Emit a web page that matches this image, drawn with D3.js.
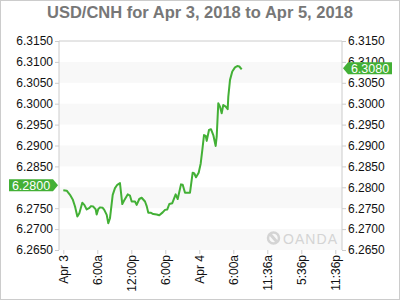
<!DOCTYPE html>
<html>
<head>
<meta charset="utf-8">
<script src="https://cdn.jsdelivr.net/npm/d3@7"></script>
<style>
  body { margin: 0; background: #fff; }
  svg { display: block; font-family: "Liberation Sans", Arial, sans-serif; }
</style>
</head>
<body>
<div id="vis"></div>
<script>
// Chart size
var width = 400;
var height = 300;

// hours since Apr 3 00:00 and USD/CNH quotes
var hours = [0, 0.6, 1.18, 1.66, 2.07, 2.48, 2.83, 3.35, 3.71, 4.13, 4.54, 4.89, 5.29, 5.72, 5.89,
    6.18, 6.48, 6.95, 7.23, 7.66, 7.94, 8.24, 8.72, 9.12, 9.53, 10.0, 10.41, 10.71, 11.36, 11.77,
    12.07, 12.65, 12.95, 13.41, 13.83, 14.42, 14.72, 15.0, 15.48, 15.88, 16.48, 16.94, 17.54, 17.95,
    18.35, 18.71, 19.23, 19.83, 20.19, 20.77, 21.07, 21.48, 21.95, 22.36, 22.83, 23.12, 23.42, 23.89,
    24.25, 24.53, 24.83, 25.13, 25.31, 25.71, 26.06, 26.47, 26.89, 27.07, 27.35, 27.65, 27.95, 28.23,
    28.66, 29.01, 29.12, 29.42, 29.82, 30.3, 30.7, 31.06, 31.48];
var quotes = [6.2793, 6.2792, 6.2782, 6.2771, 6.2754, 6.2730, 6.2738, 6.2763, 6.2758, 6.2747, 6.2750,
    6.2755, 6.2754, 6.2747, 6.2735, 6.2748, 6.2752, 6.2751, 6.2746, 6.2734, 6.2714, 6.2726, 6.2782,
    6.2798, 6.2806, 6.2810, 6.2760, 6.2768, 6.2783, 6.2780, 6.2766, 6.2766, 6.2758, 6.2772, 6.2775,
    6.2766, 6.2755, 6.2739, 6.2739, 6.2736, 6.2735, 6.2733, 6.2740, 6.2746, 6.2747, 6.2760, 6.2762,
    6.2783, 6.2772, 6.2807, 6.2806, 6.2787, 6.2787, 6.2787, 6.2835, 6.2833, 6.2824, 6.2835, 6.2857,
    6.2889, 6.2925, 6.2923, 6.2911, 6.2937, 6.2939, 6.2925, 6.2899, 6.2921, 6.3001, 6.2993, 6.2977,
    6.2997, 6.2993, 6.2987, 6.3017, 6.3057, 6.3077, 6.3087, 6.3090, 6.3089, 6.3082];

// x-axis ticks (hours) and their labels
var xTickHours = [0, 6, 12, 18, 24, 30, 36, 42, 48];
var xTickLabels = ['Apr 3', '6:00a', '12:00p', '6:00p', 'Apr 4', '6:00a', '11:36a', '5:36p', '11:36p'];

// y-axis ticks
var yTicks = [6.2650, 6.2700, 6.2750, 6.2800, 6.2850, 6.2900, 6.2950, 6.3000, 6.3050, 6.3100, 6.3150];

// price markers
var openLabel = 6.2800;
var lastLabel = 6.3080;

var title = 'USD/CNH for Apr 3, 2018 to Apr 5, 2018';
var lineColor = '#43b036';
var plot = {left: 59, right: 342, top: 41, bottom: 250};
var fmt = d3.format('.4f');

var data = hours.map(function (h, i) {
    return {h: h, v: quotes[i]};
});

var x = d3.scaleLinear()
    .domain([0, 48])
    .range([63.3, 335.3]);

var y = d3.scaleLinear()
    .domain([6.2650, 6.3150])
    .range([plot.bottom, plot.top]);

var svg = d3.select('#vis')
    .append('svg')
    .attr('width', width)
    .attr('height', height);

// outer frame
svg.append('rect')
    .attr('x', 0.5).attr('y', 0.5)
    .attr('width', width - 1).attr('height', height - 1)
    .attr('fill', '#fff')
    .attr('stroke', '#ccc');

// title
svg.append('text')
    .attr('x', width / 2)
    .attr('y', 18)
    .attr('text-anchor', 'middle')
    .attr('font-size', 16.5)
    .attr('font-weight', 'bold')
    .attr('fill', '#777')
    .text(title);

// alternating bands (every other tick interval)
var bands = [];
for (var i = 0; i < yTicks.length - 1; i += 2) {
    bands.push([yTicks[i], yTicks[i + 1]]);
}
svg.selectAll('.band')
    .data(bands)
    .enter().append('rect')
    .attr('class', 'band')
    .attr('x', plot.left)
    .attr('width', plot.right - plot.left)
    .attr('y', function (d) { return y(d[1]); })
    .attr('height', function (d) { return y(d[0]) - y(d[1]); })
    .attr('fill', '#f8f8f8');

// watermark
var wm = svg.append('g').attr('transform', 'translate(267,238)');
wm.append('circle').attr('cx', 6.5).attr('cy', 0).attr('r', 5.5).attr('fill', 'none')
    .attr('stroke', '#d4d4d4').attr('stroke-width', 2.5);
wm.append('path').attr('d', 'M3,-4 L10,4').attr('stroke', '#d4d4d4').attr('stroke-width', 3);
wm.append('text').attr('x', 16).attr('y', 5.5).attr('font-size', 14)
    .attr('textLength', 54).attr('fill', '#d4d4d4').text('OANDA');

// frame of plot
svg.append('path')
    .attr('d', 'M' + plot.left + ',' + plot.bottom + 'V' + plot.top + 'H' + plot.right + 'V' + plot.bottom)
    .attr('fill', 'none')
    .attr('stroke', '#ccc');

// y axes (left label under the open marker is hidden, as in the reference)
svg.append('g')
    .attr('transform', 'translate(' + plot.left + ',0)')
    .call(d3.axisLeft(y).tickValues(yTicks.filter(function (t) { return t !== openLabel; }))
        .tickFormat(fmt).tickSize(4).tickPadding(2));
svg.append('g')
    .attr('transform', 'translate(' + plot.right + ',0)')
    .call(d3.axisRight(y).tickValues(yTicks).tickFormat(fmt).tickSize(4).tickPadding(2));

// x axis
var xAxis = svg.append('g')
    .attr('transform', 'translate(0,' + plot.bottom + ')')
    .call(d3.axisBottom(x).tickValues(xTickHours).tickSize(4)
        .tickFormat(function (d, i) { return xTickLabels[i]; }));
xAxis.selectAll('text')
    .attr('transform', 'rotate(-90)')
    .attr('text-anchor', 'end')
    .attr('x', -5)
    .attr('y', 0)
    .attr('dy', '0.35em');

svg.selectAll('.domain').remove();
svg.selectAll('.tick line').attr('stroke', '#ccc');
svg.selectAll('.tick text').attr('font-size', 12).attr('fill', '#111')
    .attr('font-family', '"Liberation Sans", Arial, sans-serif');

// price line
var line = d3.line()
    .x(function (d) { return x(d.h); })
    .y(function (d) { return y(d.v); });

svg.append('path')
    .datum(data)
    .attr('d', line)
    .attr('fill', 'none')
    .attr('stroke', lineColor)
    .attr('stroke-width', 2)
    .attr('stroke-linejoin', 'round');

// price markers
function marker(value, side) {
    var cy = y(value) - 2;
    var g = svg.append('g');
    var w = 44, h = 12, a = 5;
    var d, tx;
    if (side === 'left') {
        var x1 = plot.left - 1;
        d = 'M' + (x1 - a - w) + ',' + (cy - h / 2) + 'H' + (x1 - a) + 'L' + x1 + ',' + cy +
            'L' + (x1 - a) + ',' + (cy + h / 2) + 'H' + (x1 - a - w) + 'Z';
        tx = x1 - a - w / 2;
    } else {
        var x0 = plot.right + 1;
        d = 'M' + x0 + ',' + cy + 'L' + (x0 + a) + ',' + (cy - h / 2) + 'H' + (x0 + a + w) +
            'V' + (cy + h / 2) + 'H' + (x0 + a) + 'Z';
        tx = x0 + a + w / 2;
    }
    g.append('path').attr('d', d).attr('fill', lineColor);
    g.append('text').attr('x', tx).attr('y', cy + 4.5)
        .attr('text-anchor', 'middle').attr('fill', '#fff').attr('font-size', 12.5)
        .text(fmt(value));
}
marker(openLabel, 'left');
marker(lastLabel, 'right');
</script>
</body>
</html>
